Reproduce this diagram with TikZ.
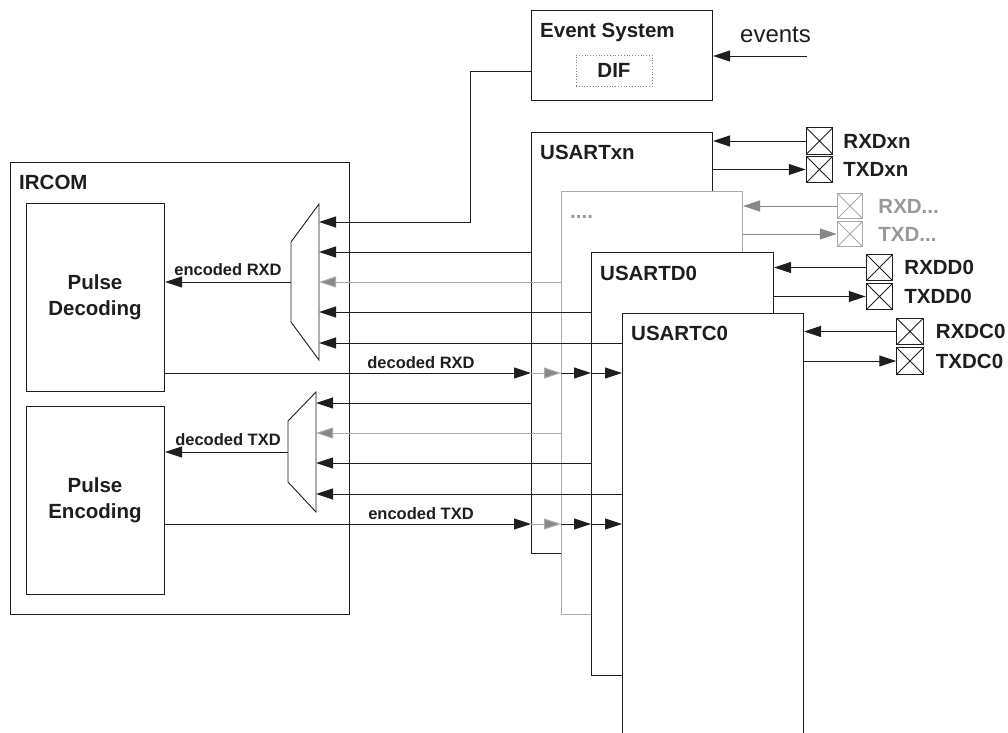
\documentclass[tikz,border=0pt]{standalone}
\usepackage{fontspec}
\setmainfont{Liberation Sans}
\usetikzlibrary{arrows.meta}
\definecolor{ink}{HTML}{1E1E1E}
\definecolor{lg}{HTML}{AAAAAA}
\definecolor{mg}{HTML}{888888}
\definecolor{gt}{HTML}{999999}
\begin{document}
\begin{tikzpicture}[x=1pt,y=-1pt,
  blk/.style={draw=ink, line width=1pt, fill=white, inner sep=0pt, anchor=north west},
  ttl/.style={font=\fontsize{20.5}{25}\selectfont\bfseries, inner sep=0pt, text=ink},
  lbl/.style={font=\fontsize{16.5}{20}\selectfont\bfseries, inner sep=0pt, anchor=base, text=ink},
  tip/.style={-{Triangle[length=17pt,width=11pt]}},
  arr/.style={draw=ink, line width=1pt, tip},
  garr/.style={draw=mg, line width=1pt, -{Triangle[length=17pt,width=11pt,fill=mg]}},
  ln/.style={draw=ink, line width=1pt},
  pinbox/.style={draw=#1, line width=1pt, minimum size=26.5pt, inner sep=0pt,
    path picture={\draw[#1, line width=0.8pt] (path picture bounding box.north west) -- (path picture bounding box.south east)
      (path picture bounding box.north east) -- (path picture bounding box.south west);}},
  pinbox/.default=ink
]
\useasboundingbox (0,0) rectangle (1008,732);
\clip (0,0) rectangle (1008,732);

% ---------------- Event system
\node[blk, minimum width=181pt, minimum height=90pt] (ev) at (531,10) {};
\node[ttl, anchor=base west] (evt) at (540,37) {Event System};
\node[draw=gray, dotted, line width=0.8pt, minimum width=76pt, minimum height=31pt, inner sep=0pt,
  font=\fontsize{20.5}{25}\selectfont\bfseries, text=ink] (dif) at (614,70.5) {DIF};
\node[font=\fontsize{24}{28}\selectfont, anchor=base west, inner sep=0pt, text=ink] (evl) at (740,42) {events};
\coordinate (evsrc) at (807,56);
\draw[arr] (evsrc) -- (evsrc -| ev.east);

% ---------------- IRCOM
\node[blk, minimum width=339pt, minimum height=452pt] (ir) at (10,162) {};
\node[ttl, anchor=base west] (irt) at (19,189) {IRCOM};
\node[blk, minimum width=138pt, minimum height=188pt] (pd) at (26,203) {};
\node[ttl, align=center, anchor=center] (pdt) at (95,297) {Pulse\\[1pt]Decoding};
\node[blk, minimum width=138pt, minimum height=188pt] (pe) at (26,406) {};
\node[ttl, align=center, anchor=center] (pet) at (95,500) {Pulse\\[1pt]Encoding};

% multiplexers
\coordinate (rxa) at (319,204); \coordinate (rxb) at (319,360);
\coordinate (rxc) at (291,322); \coordinate (rxd) at (291,242);
\draw[ln, line width=0.9pt] (rxa) -- (rxb) -- (rxc) -- (rxd) -- cycle;
\coordinate (txa) at (316,392); \coordinate (txb) at (316,512);
\coordinate (txc) at (288,482); \coordinate (txd) at (288,421);
\draw[ln, line width=0.9pt] (txa) -- (txb) -- (txc) -- (txd) -- cycle;
\coordinate (rxm) at (319,282);
\coordinate (rxo) at (291,282);
\coordinate (txm) at (316,452);
\coordinate (txo) at (288,452);

% ---------------- USART stack
\node[blk, minimum width=181pt, minimum height=421pt] (xn) at (531,132) {};
\node[ttl, anchor=base west] (xnt) at (540,159) {USARTxn};
\node[blk, draw=lg, minimum width=181pt, minimum height=423pt] (dt) at (561,191) {};
\node[ttl, anchor=base west, text=gt] (dtt) at (570,218) {....};
\node[blk, minimum width=182pt, minimum height=423pt] (d0) at (591,252) {};
\node[ttl, anchor=base west] (d0t) at (600,280) {USARTD0};
\node[blk, minimum width=181pt, minimum height=440pt] (c0) at (622,313) {};
\node[ttl, anchor=base west] (c0t) at (631,340) {USARTC0};

% ---------------- pins
\node[pinbox] (prxn) at (819.5,141) {};
\node[pinbox] (ptxn) at (819.5,169.5) {};
\node[pinbox=lg, minimum size=25.5pt] (prxd) at (850,206) {};
\node[pinbox=lg, minimum size=25.5pt] (ptxd) at (850,234) {};
\node[pinbox] (prd0) at (879.5,267.5) {};
\node[pinbox] (ptd0) at (879.5,296.5) {};
\node[pinbox] (prc0) at (910,331.5) {};
\node[pinbox] (ptc0) at (910,361) {};

\node[ttl, anchor=west] (lrxn) at ([xshift=10pt]prxn.east) {RXDxn};
\node[ttl, anchor=west] (ltxn) at ([xshift=10pt]ptxn.east) {TXDxn};
\node[ttl, anchor=west, text=gt] (lrxd) at ([xshift=15pt]prxd.east) {RXD...};
\node[ttl, anchor=west, text=gt] (ltxd) at ([xshift=15pt]ptxd.east) {TXD...};
\node[ttl, anchor=west] (lrd0) at ([xshift=11pt]prd0.east) {RXDD0};
\node[ttl, anchor=west] (ltd0) at ([xshift=11pt]ptd0.east) {TXDD0};
\node[ttl, anchor=west] (lrc0) at ([xshift=12pt]prc0.east) {RXDC0};
\node[ttl, anchor=west] (ltc0) at ([xshift=12pt]ptc0.east) {TXDC0};

\draw[arr] (prxn.west) -- (prxn.west -| xn.east);
\draw[arr] (ptxn.west -| xn.east) -- (ptxn.west);
\draw[garr] (prxd.west) -- (prxd.west -| dt.east);
\draw[garr] (ptxd.west -| dt.east) -- (ptxd.west);
\draw[arr] (prd0.west) -- (prd0.west -| d0.east);
\draw[arr] (ptd0.west -| d0.east) -- (ptd0.west);
\draw[arr] (prc0.west) -- (prc0.west -| c0.east);
\draw[arr] (ptc0.west -| c0.east) -- (ptc0.west);

% ---------------- event system to RX mux
\coordinate (evo) at (531,71);
\coordinate (evk1) at (470,71);
\coordinate (evk2) at (470,222);
\draw[arr] (evo) -- (evk1) -- (evk2) -- (evk2 -| rxm);

% ---------------- RX mux inputs
\coordinate (r1) at (0,252); \coordinate (r2) at (0,282);
\coordinate (r3) at (0,312); \coordinate (r4) at (0,343);
\draw[arr] (r1 -| xn.west) -- (r1 -| rxm);
\draw[garr, draw=lg] (r2 -| dt.west) -- (r2 -| rxm);
\draw[arr] (r3 -| d0.west) -- (r3 -| rxm);
\draw[arr] (r4 -| c0.west) -- (r4 -| rxm);
\draw[arr] (rxo) -- (rxo -| pd.east);
\node[lbl] (encrx) at (228,275) {encoded RXD};

% ---------------- TX mux inputs
\coordinate (t1) at (0,403); \coordinate (t2) at (0,433);
\coordinate (t3) at (0,463); \coordinate (t4) at (0,494);
\draw[arr] (t1 -| xn.west) -- (t1 -| txm);
\draw[garr, draw=lg] (t2 -| dt.west) -- (t2 -| txm);
\draw[arr] (t3 -| d0.west) -- (t3 -| txm);
\draw[arr] (t4 -| c0.west) -- (t4 -| txm);
\draw[arr] (txo) -- (txo -| pe.east);
\node[lbl] (dectx) at (228,445) {decoded TXD};

% ---------------- decoded RXD / encoded TXD buses
\coordinate (drx) at (0,373);
\coordinate (etx) at (0,524);
\draw[arr] (drx -| pd.east) -- (drx -| xn.west);
\draw[garr, draw=lg] (drx -| xn.west) -- (drx -| dt.west);
\draw[arr] (drx -| dt.west) -- (drx -| d0.west);
\draw[arr] (drx -| d0.west) -- (drx -| c0.west);
\node[lbl] (decrx) at (421,368) {decoded RXD};
\draw[arr] (etx -| pe.east) -- (etx -| xn.west);
\draw[garr, draw=lg] (etx -| xn.west) -- (etx -| dt.west);
\draw[arr] (etx -| dt.west) -- (etx -| d0.west);
\draw[arr] (etx -| d0.west) -- (etx -| c0.west);
\node[lbl] (enctx) at (421,519) {encoded TXD};
\end{tikzpicture}
\end{document}
